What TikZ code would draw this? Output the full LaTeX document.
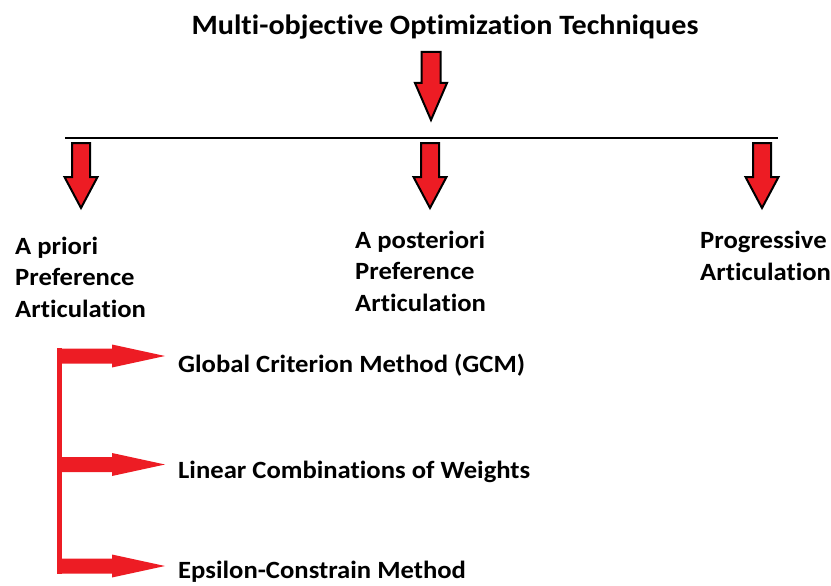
\documentclass[tikz,border=0pt]{standalone}
\usepackage{fontspec}
\setmainfont{Carlito}[FakeStretch=1.075, Ligatures={NoCommon}]
\definecolor{arrred}{HTML}{ED1C24}
\begin{document}
\begin{tikzpicture}[x=1pt,y=-1pt,
  title/.style={font=\fontsize{28}{32}\selectfont\bfseries, inner sep=0pt, anchor=base},
  cat/.style={font=\fontsize{24.8}{31.5}\selectfont\bfseries, inner sep=0pt, anchor=base west, align=left},
  item/.style={font=\fontsize{24.8}{31.5}\selectfont\bfseries, inner sep=0pt, anchor=base west},
  darr/.style={fill=arrred, draw=black, line width=2pt, line join=miter},
  harr/.style={fill=arrred, draw=none},
  bar/.style={draw=black, line width=2.5pt},
  brk/.style={draw=arrred, line width=4.5pt}
]
\useasboundingbox (0,0) rectangle (831,586);

% title
\node[title] (title) at (445,35) {Multi-objective Optimization Techniques};

% horizontal bar
\coordinate (barL) at (65,138);
\coordinate (barR) at (778,138);
\draw[bar] (barL) -- (barR);

% big down arrow from title to bar
\coordinate (t0) at (431,52);
\path[darr] (t0) +(-9.5,0) -- +(9.5,0) -- +(9.5,31) -- +(16,31) -- +(0,68) -- +(-16,31) -- +(-9.5,31) -- cycle;

% small down arrows
\foreach \n/\x in {a1/81, a2/430, a3/762}{
  \coordinate (\n) at (\x,143);
  \path[darr] (\n) +(-9,0) -- +(9,0) -- +(9,34) -- +(16.5,34) -- +(0,65) -- +(-16.5,34) -- +(-9,34) -- cycle;
}

% categories (base anchor = baseline of last line)
\node[cat] (apriori) at (15,317) {A priori\\Preference\\Articulation};
\node[cat] (aposteriori) at (355,311) {A posteriori\\Preference\\Articulation};
\node[cat] (progressive) at (700,280) {Progressive\\Articulation};

% methods
\node[item] (gcm) at (178,372) {Global Criterion Method (GCM)};
\node[item] (lcw) at (178,478) {Linear Combinations of Weights};
\node[item] (ecm) at (178,578) {Epsilon-Constrain Method};

% red bracket
\coordinate (brTop) at (59.5,348);
\coordinate (brBot) at (59.5,573.5);
\draw[brk] (brTop) -- (brBot);
\foreach \n/\y in {h1/356, h2/464.5, h3/566}{
  \coordinate (\n) at (57,\y);
  \path[harr] (\n) +(0,-7.5) -- +(55,-7.5) -- +(55,-11.5) -- +(108,0) -- +(55,11.5) -- +(55,7.5) -- +(0,7.5) -- cycle;
}
\end{tikzpicture}
\end{document}
